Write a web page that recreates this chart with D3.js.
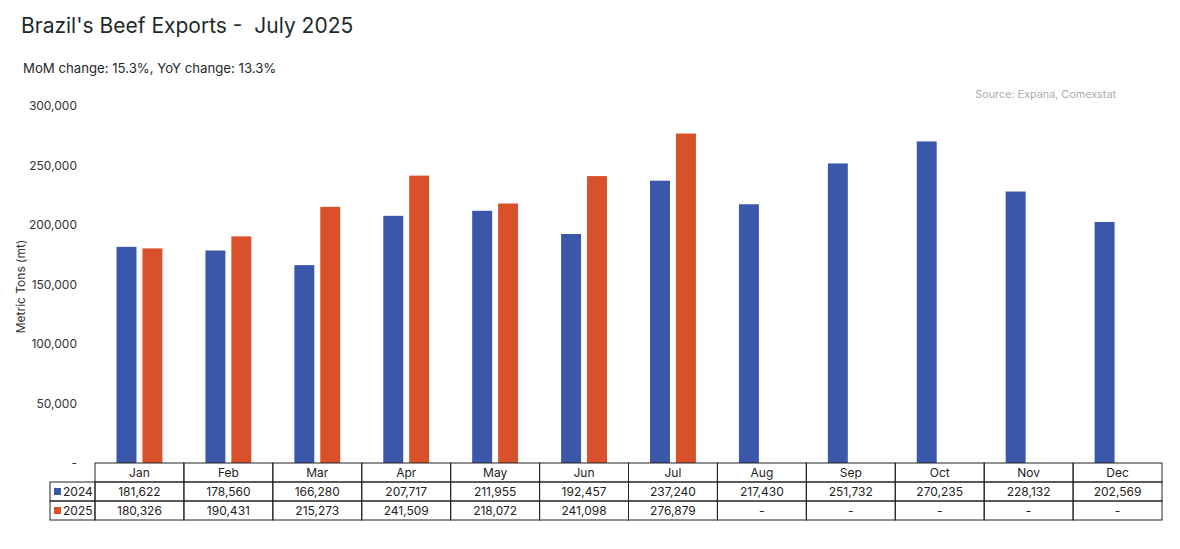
<!DOCTYPE html>
<html>
<head>
<meta charset="utf-8">
<script src="https://cdn.jsdelivr.net/npm/d3@7"></script>
<style>
  body { margin: 0; background: #fff; }
  svg { font-family: "Inter", "Noto Sans", sans-serif; }
</style>
</head>
<body>
<svg class="mysvg"></svg>
<script>
// chart data
const months = ["Jan", "Feb", "Mar", "Apr", "May", "Jun", "Jul", "Aug", "Sep", "Oct", "Nov", "Dec"];
const series = ["2024", "2025"];
const values2024 = [181622, 178560, 166280, 207717, 211955, 192457, 237240, 217430, 251732, 270235, 228132, 202569];
const values2025 = [180326, 190431, 215273, 241509, 218072, 241098, 276879, null, null, null, null, null];
const yTicks = [0, 50000, 100000, 150000, 200000, 250000, 300000];

const colors = { "2024": "#3a57a9", "2025": "#d9512b" };

const width = 1180,
  height = 549,
  margin = { top: 106, right: 18, bottom: 86, left: 95 };

const svg = d3.select(".mysvg").attr("width", width).attr("height", height);

const x = d3
  .scaleBand()
  .domain(months)
  .range([margin.left, 1162]);

const x1 = d3
  .scaleBand()
  .domain(series)
  .range([0, x.bandwidth()])
  .paddingInner(0.23)
  .paddingOuter(0.83);

const y = d3
  .scaleLinear()
  .domain([0, 300000])
  .range([463, margin.top]);

// title + subtitle
svg.append("text")
  .attr("x", 21)
  .attr("y", 33)
  .attr("font-size", 21)
  .attr("fill", "#1d2a2a")
  .style("white-space", "pre")
  .text("Brazil's Beef Exports -  July 2025");

svg.append("text")
  .attr("x", 23)
  .attr("y", 73)
  .attr("font-size", 13.2)
  .attr("fill", "#1d2a2a")
  .text("MoM change: 15.3%, YoY change: 13.3%");

svg.append("text")
  .attr("x", 1116)
  .attr("y", 98)
  .attr("text-anchor", "end")
  .attr("font-size", 10.8)
  .attr("fill", "#a9adb2")
  .text("Source: Expana, Comexstat");

// y axis (labels only)
const yAxis = svg.append("g")
  .attr("transform", `translate(${margin.left - 15},0)`)
  .call(
    d3.axisLeft(y)
      .tickValues(yTicks)
      .tickSize(0)
      .tickFormat((d) => (d === 0 ? "-" : d3.format(",")(d)))
  );
yAxis.select(".domain").remove();
yAxis.selectAll("text")
  .attr("font-size", 12)
  .attr("fill", "#333")
  .attr("font-family", "Inter, 'Noto Sans', sans-serif");

svg.append("text")
  .attr("transform", `translate(25,${(y(0) + y(300000)) / 2 + 2}) rotate(-90)`)
  .attr("text-anchor", "middle")
  .attr("font-size", 12)
  .attr("fill", "#333")
  .text("Metric Tons (mt)");

// bars
const barData = months.flatMap((m, i) => [
  { month: m, key: "2024", value: values2024[i] },
  { month: m, key: "2025", value: values2025[i] },
]).filter((d) => d.value != null);

svg.append("g")
  .selectAll("rect")
  .data(barData)
  .enter()
  .append("rect")
  .attr("x", (d) => x(d.month) + x1(d.key))
  .attr("y", (d) => y(d.value))
  .attr("width", x1.bandwidth())
  .attr("height", (d) => y(0) - y(d.value))
  .attr("fill", (d) => colors[d.key]);

// data table under the chart
const rowH = 19;
const tableTop = y(0);
const table = svg.append("g").attr("class", "table");
const stroke = "#222";

const rows = [
  { key: "2024", vals: values2024 },
  { key: "2025", vals: values2025 },
];

// header cells
table.selectAll(".hdr")
  .data(months)
  .enter()
  .append("rect")
  .attr("x", (d) => x(d))
  .attr("y", tableTop)
  .attr("width", x.bandwidth())
  .attr("height", rowH)
  .attr("fill", "none")
  .attr("stroke", stroke)
  .attr("stroke-width", 1);

table.selectAll(".hdr-text")
  .data(months)
  .enter()
  .append("text")
  .attr("x", (d) => x(d) + x.bandwidth() / 2)
  .attr("y", tableTop + rowH / 2 + 4.5)
  .attr("text-anchor", "middle")
  .attr("font-size", 12)
  .attr("fill", "#222")
  .text((d) => d);

rows.forEach((row, ri) => {
  const ry = tableTop + rowH * (ri + 1);

  // legend cell
  table.append("rect")
    .attr("x", 50)
    .attr("y", ry)
    .attr("width", margin.left - 50)
    .attr("height", rowH)
    .attr("fill", "none")
    .attr("stroke", stroke);
  table.append("rect")
    .attr("x", 54)
    .attr("y", ry + rowH / 2 - 3.5)
    .attr("width", 7)
    .attr("height", 7)
    .attr("fill", colors[row.key]);
  table.append("text")
    .attr("x", 63)
    .attr("y", ry + rowH / 2 + 4.5)
    .attr("font-size", 12)
    .attr("fill", "#222")
    .text(row.key);

  months.forEach((m, i) => {
    table.append("rect")
      .attr("x", x(m))
      .attr("y", ry)
      .attr("width", x.bandwidth())
      .attr("height", rowH)
      .attr("fill", "none")
      .attr("stroke", stroke);
    table.append("text")
      .attr("x", x(m) + x.bandwidth() / 2)
      .attr("y", ry + rowH / 2 + 4.5)
      .attr("text-anchor", "middle")
      .attr("font-size", 12)
      .attr("fill", "#222")
      .text(row.vals[i] == null ? "-" : d3.format(",")(row.vals[i]));
  });
});
</script>
</body>
</html>
